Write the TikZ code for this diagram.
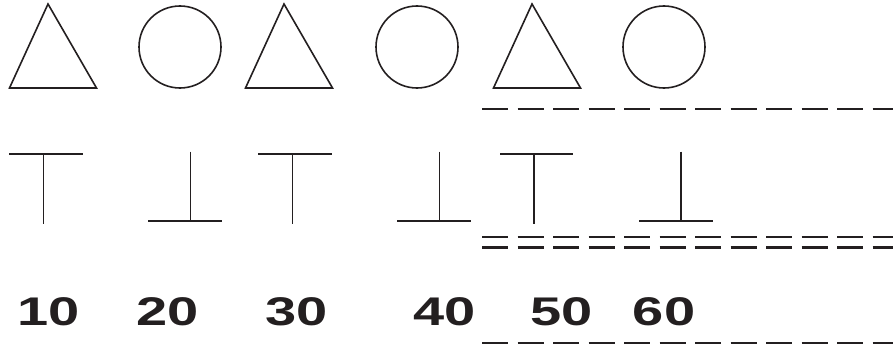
\documentclass[tikz,border=0pt]{standalone}
\usepackage{fontspec}
\newfontfamily\numfont[FakeStretch=1.4]{Liberation Sans}
\usetikzlibrary{positioning}
\definecolor{ink}{HTML}{231F20}

\begin{document}
\begin{tikzpicture}[
    x=1pt, y=-1pt,
    outline/.style={draw=ink, line width=1.6pt, line join=miter},
    rule/.style={draw=ink, line width=2.6pt, dash pattern=on 26.4pt off 9.1pt},
    numlabel/.style={
        text=ink,
        font=\numfont\bfseries\fontsize{40}{40}\selectfont,
        inner sep=0pt,
        anchor=base
    }
]
\useasboundingbox (0,0) rectangle (893,353);

% triangles and circles
\foreach \x in {48,284,532}
    \draw[outline] (\x,4) -- (\x-38.5,88) -- (\x+48.5,88) -- cycle;
\foreach \x in {180,417,664}
    \draw[outline] (\x,47) circle (41);

% T and inverted T
\foreach \x in {43.3,292.3,534} {
    \draw[outline] (\x-34,153.7) -- (\x+39.4,153.7);
    \draw[outline] (\x,153.7) -- (\x,224);
}
\foreach \x in {190.3,439.3,681} {
    \draw[outline] (\x-42,221.2) -- (\x+31.7,221.2);
    \draw[outline] (\x,151.7) -- (\x,221.2);
}

% numbers
\node[numlabel] (n10) at (48.3,325.7) {10};
\node[numlabel] (n20) at (168,325.7) {20};
\node[numlabel] (n30) at (296.5,325.7) {30};
\node[numlabel] (n40) at (444.5,325.7) {40};
\node[numlabel] (n50) at (561.5,325.7) {50};
\node[numlabel] (n60) at (664,325.7) {60};

% rules
\draw[rule] (482,109) -- (893,109);
\draw[rule] (482,236.8) -- (893,236.8);
\draw[rule] (482,247.3) -- (893,247.3);
\draw[rule] (482,343) -- (893,343);

\end{tikzpicture}
\end{document}
